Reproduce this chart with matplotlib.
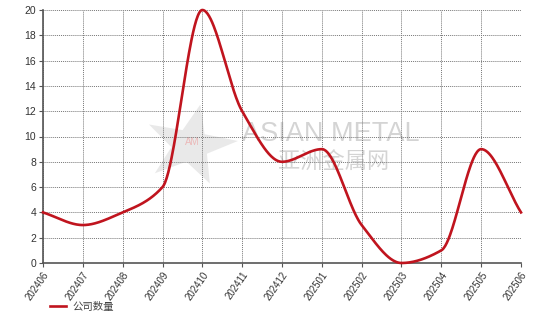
import numpy as np
import matplotlib
matplotlib.use("Agg")
import matplotlib.pyplot as plt
from matplotlib.patches import Polygon

plt.rcParams['font.family'] = ['Liberation Sans', 'Noto Sans CJK SC', 'DejaVu Sans']

months = ["202406", "202407", "202408", "202409", "202410", "202411", "202412",
          "202501", "202502", "202503", "202504", "202505", "202506"]
counts = [4, 3, 4, 6, 20, 12, 8, 9, 3, 0, 1, 9, 4]
series_name = "公司数量"
y_ticks = list(range(0, 21, 2))


def pchip(x, y, xs):
    x = np.asarray(x, float); y = np.asarray(y, float)
    h = np.diff(x); d = np.diff(y) / h
    n = len(x); m = np.zeros(n)
    for k in range(1, n - 1):
        if d[k - 1] * d[k] > 0:
            w1 = 2 * h[k] + h[k - 1]; w2 = h[k] + 2 * h[k - 1]
            m[k] = (w1 + w2) / (w1 / d[k - 1] + w2 / d[k])
    m[0] = d[0]; m[-1] = d[-1]
    out = np.empty_like(xs)
    for i, xv in enumerate(xs):
        k = min(max(np.searchsorted(x, xv) - 1, 0), n - 2)
        t = (xv - x[k]) / h[k]
        h00 = 2*t**3 - 3*t**2 + 1; h10 = t**3 - 2*t**2 + t
        h01 = -2*t**3 + 3*t**2; h11 = t**3 - t**2
        out[i] = h00*y[k] + h10*h[k]*m[k] + h01*y[k+1] + h11*h[k]*m[k+1]
    return out


fig = plt.figure(figsize=(5.54, 3.19), dpi=100)
ax = fig.add_axes([43/554, 1 - 263/319, (521-43)/554, (263-10)/319])

x = np.arange(len(months))
xs = np.linspace(0, len(months) - 1, 600)
ys = pchip(x, counts, xs)

# watermark (faint)
star_cx, star_cy, R, r = 3.7, 9.3, 1.2, 0.48
rot = np.deg2rad(-12)
pts = []
for i in range(10):
    ang = np.pi/2 + rot + i * np.pi / 5
    rad = R if i % 2 == 0 else r
    pts.append((star_cx + rad * np.cos(ang), star_cy + rad * np.sin(ang) * 2.75))
ax.add_patch(Polygon(pts, closed=True, facecolor='#e4e4e4', edgecolor='none', alpha=0.8, zorder=1))
ax.text(3.75, 9.6, "AM", color='#ecb8b8', fontsize=7, ha='center', va='center', zorder=1)
ax.text(5.0, 10.2, "ASIAN METAL", color='#d4d4d4', fontsize=19.5, ha='left', va='center', zorder=1)
ax.text(5.9, 8.0, "亚洲金属网", color='#d4d4d4', fontsize=16, ha='left', va='center',
        family=['Noto Sans CJK SC'], zorder=1)

line, = ax.plot(xs, ys, color='#c0141e', lw=1.9, zorder=3, label=series_name, clip_on=False)

ax.set_xlim(0, len(months) - 1)
ax.set_ylim(0, 20)
ax.set_xticks(x)
ax.set_xticklabels(months, rotation=55, ha='right', rotation_mode='anchor', fontsize=7, color='#333333')
ax.set_yticks(y_ticks)
ax.set_yticklabels([str(v) for v in y_ticks], fontsize=7.5, color='#333333')
ax.tick_params(axis='both', length=3, width=0.8, color='#555555', pad=2)
ax.grid(True, color='#777777', linestyle=(0, (1, 1)), linewidth=0.7)
for s in ['top', 'right']:
    ax.spines[s].set_visible(False)
for s in ['left', 'bottom']:
    ax.spines[s].set_color('#555555')
    ax.spines[s].set_linewidth(1.2)

fig.legend(handles=[line], labels=[series_name], loc='center left',
           bbox_to_anchor=(41/554, 1 - 307/319), frameon=False,
           handlelength=1.5, handletextpad=0.6,
           prop={'family': ['Noto Sans CJK SC'], 'size': 7.5}, labelcolor='#444444')

fig.savefig("out.png", dpi=100)
